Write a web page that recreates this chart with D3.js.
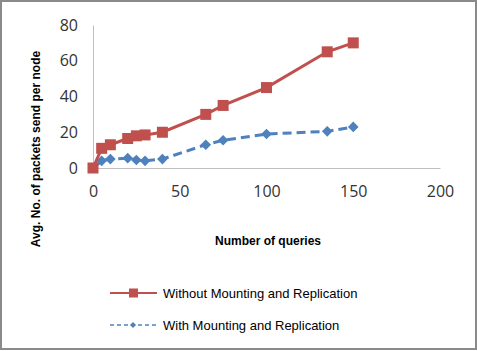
<!DOCTYPE html>
<html>
<head>
<meta charset="utf-8">
<script src="https://cdn.jsdelivr.net/npm/d3@7"></script>
<style>
  body { margin: 0; background: #fff; }
  text { font-family: "Liberation Sans", Arial, sans-serif; }
</style>
</head>
<body>
<div id="chart"></div>
<script>
// data
var queries = [0, 5, 10, 20, 25, 30, 40, 65, 75, 100, 135, 150];
var withoutMounting = [0, 11, 13, 16.5, 18, 18.5, 20, 30, 35, 45, 65, 70];
var withMounting = [0, 4, 5, 5.5, 4.5, 4, 5, 13, 15.5, 19, 20.5, 23];
var xTicks = [0, 50, 100, 150, 200];
var yTicks = [0, 20, 40, 60, 80];
var seriesNames = ["Without Mounting and Replication", "With Mounting and Replication"];

var width = 477, height = 351;
var margin = {top: 25, left: 93, right: 37, bottom: 183};

var svg = d3.select("#chart").append("svg")
    .attr("width", width)
    .attr("height", height);

// outer frame
svg.append("rect")
    .attr("x", 1).attr("y", 1)
    .attr("width", width - 2).attr("height", height - 3)
    .attr("fill", "#fff")
    .attr("stroke", "#8a8a8a")
    .attr("stroke-width", 2);

var x = d3.scaleLinear().domain([0, 200]).range([margin.left, width - margin.right]);
var y = d3.scaleLinear().domain([0, 80]).range([height - margin.bottom, margin.top]);

// axes
var xAxis = d3.axisBottom(x).tickValues(xTicks).tickSize(0).tickPadding(18);
var yAxis = d3.axisLeft(y).tickValues(yTicks).tickSize(0).tickPadding(15);

var gx = svg.append("g")
    .attr("transform", "translate(0," + y(0) + ")")
    .call(xAxis);
var gy = svg.append("g")
    .attr("transform", "translate(" + x(0) + ",0)")
    .call(yAxis);

[gx, gy].forEach(function(g) {
  g.select(".domain").attr("stroke", "#c0c0c0");
  g.selectAll("text")
      .attr("fill", "#333")
      .style("font-size", "16px")
      .style("font-family", "'Open Sans', sans-serif");
});

// axis titles
svg.append("text")
    .attr("x", 268).attr("y", 245)
    .attr("text-anchor", "middle")
    .style("font-size", "12px")
    .style("font-weight", "bold")
    .text("Number of queries");

svg.append("text")
    .attr("transform", "translate(40,149) rotate(-90)")
    .attr("text-anchor", "middle")
    .style("font-size", "12px")
    .style("font-weight", "bold")
    .text("Avg. No. of packets send per node");

var line = d3.line()
    .x(function(d) { return x(d[0]); })
    .y(function(d) { return y(d[1]); });

var redData = queries.map(function(q, i) { return [q, withoutMounting[i]]; });
var blueData = queries.map(function(q, i) { return [q, withMounting[i]]; });

var red = "#c0504d", blue = "#4f81bd";

// blue dashed series
svg.append("path")
    .datum(blueData)
    .attr("d", line)
    .attr("fill", "none")
    .attr("stroke", blue)
    .attr("stroke-width", 3)
    .attr("stroke-dasharray", "9,5");

svg.selectAll(".diamond")
    .data(blueData)
  .enter().append("path")
    .attr("class", "diamond")
    .attr("d", d3.symbol().type(d3.symbolDiamond2).size(72))
    .attr("transform", function(d) { return "translate(" + x(d[0]) + "," + y(d[1]) + ")"; })
    .attr("fill", blue);

// red solid series
svg.append("path")
    .datum(redData)
    .attr("d", line)
    .attr("fill", "none")
    .attr("stroke", red)
    .attr("stroke-width", 3);

svg.selectAll(".square")
    .data(redData)
  .enter().append("rect")
    .attr("class", "square")
    .attr("x", function(d) { return x(d[0]) - 5.5; })
    .attr("y", function(d) { return y(d[1]) - 5.5; })
    .attr("width", 11).attr("height", 11)
    .attr("fill", red);

// legend
var legend = svg.append("g");
var legY = [293, 325];

legend.append("line")
    .attr("x1", 110).attr("x2", 157)
    .attr("y1", legY[0]).attr("y2", legY[0])
    .attr("stroke", red).attr("stroke-width", 2);
legend.append("rect")
    .attr("x", 129).attr("y", legY[0] - 4.5)
    .attr("width", 9).attr("height", 9)
    .attr("fill", red);

legend.append("line")
    .attr("x1", 110).attr("x2", 157)
    .attr("y1", legY[1]).attr("y2", legY[1])
    .attr("stroke", blue).attr("stroke-width", 1.5)
    .attr("stroke-dasharray", "4,3");
legend.append("path")
    .attr("d", d3.symbol().type(d3.symbolDiamond2).size(24))
    .attr("transform", "translate(133," + legY[1] + ")")
    .attr("fill", blue);

legend.selectAll(".legtext")
    .data(seriesNames)
  .enter().append("text")
    .attr("class", "legtext")
    .attr("x", 163)
    .attr("y", function(d, i) { return legY[i] + 5; })
    .style("font-size", "13px")
    .text(function(d) { return d; });
</script>
</body>
</html>
